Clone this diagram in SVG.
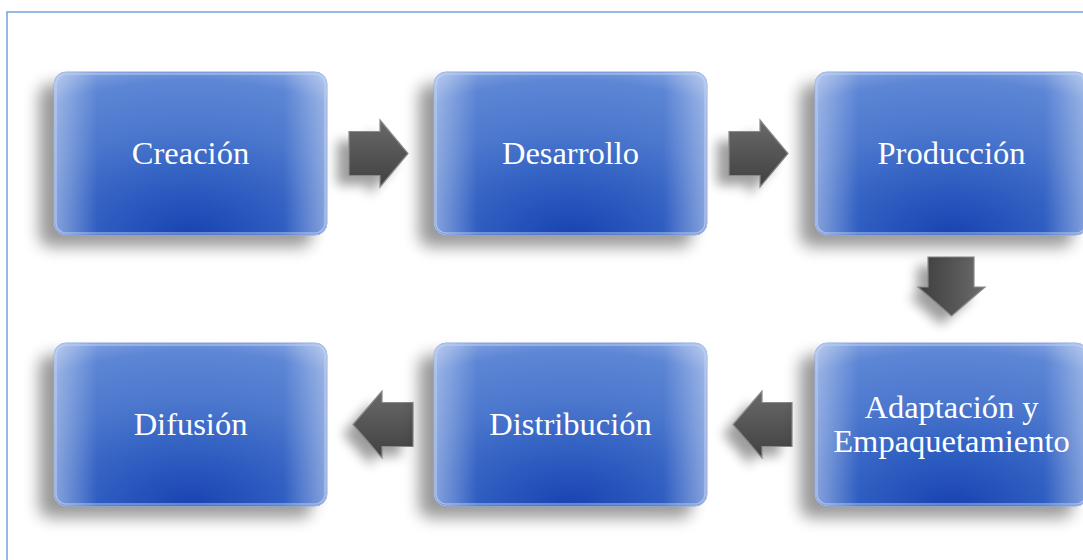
<svg xmlns="http://www.w3.org/2000/svg" width="1083" height="560" viewBox="0 0 1083 560">
<defs>
  <radialGradient id="boxFill" cx="0.5" cy="1.02" r="1.1" fx="0.5" fy="1.02">
    <stop offset="0" stop-color="#1842b0"/>
    <stop offset="0.28" stop-color="#2c5bc0"/>
    <stop offset="0.6" stop-color="#4b77cd"/>
    <stop offset="0.88" stop-color="#5d86d5"/>
    <stop offset="1" stop-color="#86a5e1"/>
  </radialGradient>
  <linearGradient id="edgeGlow" x1="0" y1="0" x2="1" y2="0">
    <stop offset="0" stop-color="#ffffff" stop-opacity="0.38"/>
    <stop offset="0.16" stop-color="#ffffff" stop-opacity="0"/>
    <stop offset="0.84" stop-color="#ffffff" stop-opacity="0"/>
    <stop offset="1" stop-color="#ffffff" stop-opacity="0.38"/>
  </linearGradient>
  <linearGradient id="arrowFillH" x1="0" y1="0" x2="0" y2="1">
    <stop offset="0" stop-color="#6a6a6a"/>
    <stop offset="1" stop-color="#404040"/>
  </linearGradient>
  <linearGradient id="arrowFillV" x1="0" y1="0" x2="1" y2="0">
    <stop offset="0" stop-color="#3e3e3e"/>
    <stop offset="0.6" stop-color="#585858"/>
    <stop offset="1" stop-color="#6e6e6e"/>
  </linearGradient>
  <filter id="shadow" x="-30%" y="-30%" width="160%" height="160%">
    <feGaussianBlur stdDeviation="8"/>
  </filter>
  <filter id="ashadow" x="-60%" y="-60%" width="220%" height="220%">
    <feGaussianBlur stdDeviation="6"/>
  </filter>
  <style>
    .frame { fill: none; stroke: #74a0e0; stroke-width: 1.5; }
    .shadow { fill: #000; opacity: 0.4; filter: url(#shadow); }
    .box { fill: url(#boxFill); stroke: #8eaae0; stroke-width: 1; }
    .glow { fill: url(#edgeGlow); }
    .hl { fill: none; stroke: #c4d6f6; stroke-width: 1.5; opacity: 0.6; }
    .label { font-family: "Liberation Serif", "DejaVu Serif", serif; font-size: 32.5px; fill: #ffffff; text-anchor: middle; }
    .ashadow { fill: #000; opacity: 0.38; filter: url(#ashadow); }
    .arrowH { fill: url(#arrowFillH); stroke: #8a8a8a; stroke-width: 1.2; stroke-linejoin: miter; }
    .arrowV { fill: url(#arrowFillV); stroke: #8a8a8a; stroke-width: 1.2; stroke-linejoin: miter; }
  </style>
</defs>
<rect x="0" y="0" width="1083" height="560" fill="#ffffff"/>
<rect class="frame" x="7" y="12" width="1100" height="600"/>

<g id="connectors">
  <g id="arrow-creacion-desarrollo">
    <polygon class="ashadow" points="337,141 368,141 368,130 396,163 368,196 368,185 337,185"/>
    <polygon class="arrowH" points="349,131.5 380,131.5 380,120 408,153.5 380,187 380,175.5 349,175.5"/>
  </g>
  <g id="arrow-desarrollo-produccion">
    <polygon class="ashadow" points="717,141 748,141 748,130 776,163 748,196 748,185 717,185"/>
    <polygon class="arrowH" points="729,131.5 760,131.5 760,120 788,153.5 760,187 760,175.5 729,175.5"/>
  </g>
  <g id="arrow-produccion-adaptacion">
    <polygon class="ashadow" points="917,266 963,266 963,296 974,296 941,325 908,296 917,296"/>
    <polygon class="arrowV" points="928,257 974,257 974,287 985,287 951.5,316 918,287 928,287"/>
  </g>
  <g id="arrow-adaptacion-distribucion">
    <polygon class="ashadow" points="780,412 751,412 751,401 723,434 751,467 751,456 780,456"/>
    <polygon class="arrowH" points="792,402.5 762,402.5 762,391 733,424.5 762,458 762,446.5 792,446.5"/>
  </g>
  <g id="arrow-distribucion-difusion">
    <polygon class="ashadow" points="401,412 372,412 372,401 343,434 372,467 372,456 401,456"/>
    <polygon class="arrowH" points="413,402.5 382,402.5 382,391 353,424.5 382,458 382,446.5 413,446.5"/>
  </g>
</g>

<g id="node-creacion">
  <rect class="shadow" x="39" y="84" width="273" height="163" rx="12"/>
  <rect class="box" x="54" y="72" width="273" height="163" rx="12"/>
  <rect class="glow" x="54" y="72" width="273" height="163" rx="12"/>
  <rect class="hl" x="56" y="74" width="269" height="159" rx="10"/>
  <text class="label" x="190.5" y="163.5">Creación</text>
</g>
<g id="node-desarrollo">
  <rect class="shadow" x="419" y="84" width="273" height="163" rx="12"/>
  <rect class="box" x="434" y="72" width="273" height="163" rx="12"/>
  <rect class="glow" x="434" y="72" width="273" height="163" rx="12"/>
  <rect class="hl" x="436" y="74" width="269" height="159" rx="10"/>
  <text class="label" x="570.5" y="163.5">Desarrollo</text>
</g>
<g id="node-produccion">
  <rect class="shadow" x="800" y="84" width="273" height="163" rx="12"/>
  <rect class="box" x="815" y="72" width="273" height="163" rx="12"/>
  <rect class="glow" x="815" y="72" width="273" height="163" rx="12"/>
  <rect class="hl" x="817" y="74" width="269" height="159" rx="10"/>
  <text class="label" x="951.5" y="163.5">Producción</text>
</g>
<g id="node-adaptacion">
  <rect class="shadow" x="800" y="355" width="273" height="163" rx="12"/>
  <rect class="box" x="815" y="343" width="273" height="163" rx="12"/>
  <rect class="glow" x="815" y="343" width="273" height="163" rx="12"/>
  <rect class="hl" x="817" y="345" width="269" height="159" rx="10"/>
  <text class="label" x="951.5" y="418">Adaptación y</text>
  <text class="label" x="951.5" y="452">Empaquetamiento</text>
</g>
<g id="node-distribucion">
  <rect class="shadow" x="419" y="355" width="273" height="163" rx="12"/>
  <rect class="box" x="434" y="343" width="273" height="163" rx="12"/>
  <rect class="glow" x="434" y="343" width="273" height="163" rx="12"/>
  <rect class="hl" x="436" y="345" width="269" height="159" rx="10"/>
  <text class="label" x="570.5" y="435">Distribución</text>
</g>
<g id="node-difusion">
  <rect class="shadow" x="39" y="355" width="273" height="163" rx="12"/>
  <rect class="box" x="54" y="343" width="273" height="163" rx="12"/>
  <rect class="glow" x="54" y="343" width="273" height="163" rx="12"/>
  <rect class="hl" x="56" y="345" width="269" height="159" rx="10"/>
  <text class="label" x="190.5" y="435">Difusión</text>
</g>
</svg>
